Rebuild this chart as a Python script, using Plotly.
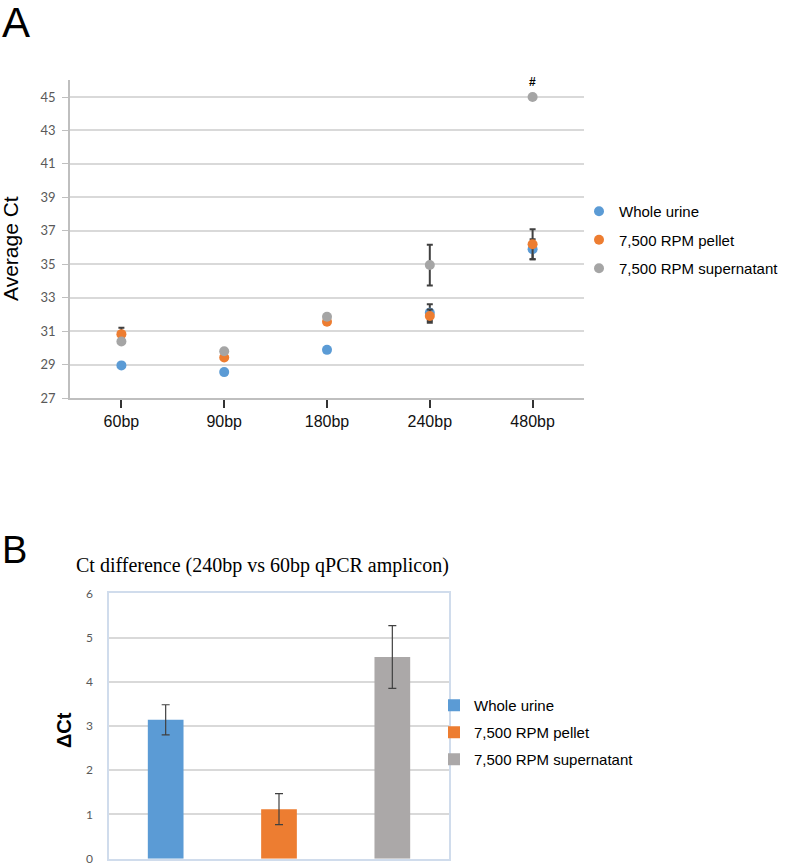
import plotly.graph_objects as go

W, H = 800, 863

# ---------------- Data: panel A ----------------
amplicons = ["60bp", "90bp", "180bp", "240bp", "480bp"]
whole_urine_ct = [28.95, 28.55, 29.88, 32.1, 35.9]
whole_urine_err = [0.0, 0.0, 0.0, 0.5, 0.6]
pellet_ct = [30.82, 29.42, 31.56, 31.9, 36.2]
pellet_err = [0.38, 0.0, 0.0, 0.4, 0.9]
supernatant_ct = [30.38, 29.8, 31.86, 34.95, 45.0]
supernatant_err = [0.0, 0.0, 0.0, 1.22, 0.0]
series_names = ["Whole urine", "7,500 RPM pellet", "7,500 RPM supernatant"]
y_ticks_a = [27, 29, 31, 33, 35, 37, 39, 41, 43, 45]

# ---------------- Data: panel B ----------------
delta_ct = [3.14, 1.12, 4.56]
delta_ct_err = [0.34, 0.35, 0.71]
y_ticks_b = [0, 1, 2, 3, 4, 5, 6]

colors_a = ["#5B9BD5", "#ED7D31", "#A5A5A5"]
colors_b = ["#5B9BD5", "#ED7D31", "#ABA8A8"]


def px_x(p):
    return p / W


def px_y(p):
    return 1 - p / H


fig = go.Figure()

vals_a = [whole_urine_ct, pellet_ct, supernatant_ct]
errs_a = [whole_urine_err, pellet_err, supernatant_err]
for i in range(3):
    fig.add_trace(go.Scatter(
        x=amplicons, y=vals_a[i], mode="markers", name=series_names[i],
        marker=dict(color=colors_a[i], size=10),
        error_y=dict(type="data", array=errs_a[i], color="#404040",
                     thickness=2, width=3),
        xaxis="x", yaxis="y", legend="legend", legendgroup="a%d" % i,
    ))

for i in range(3):
    fig.add_trace(go.Bar(
        x=[series_names[i]], y=[delta_ct[i]], name=series_names[i],
        marker=dict(color=colors_b[i], line=dict(width=0)), width=0.315,
        error_y=dict(type="data", array=[delta_ct_err[i]], color="#404040",
                     thickness=1.2, width=4),
        xaxis="x2", yaxis="y2", legend="legend2", legendgroup="b%d" % i,
    ))

tick_font_a = dict(family="Lato, Liberation Sans, Arial", size=13, color="#595959")

fig.update_layout(
    width=W, height=H,
    margin=dict(l=0, r=0, t=0, b=0, autoexpand=False),
    paper_bgcolor="white", plot_bgcolor="white",
    barmode="overlay",
    font=dict(family="Liberation Sans, Arial", color="#000000"),
    xaxis=dict(
        domain=[px_x(70), px_x(584)], anchor="y", automargin=False,
        type="category", range=[-0.5, 4.5],
        showgrid=False, showline=True, linecolor="#BFBFBF", linewidth=1.5,
        ticks="outside", ticklen=8, tickwidth=2, tickcolor="#333333",
        tickfont=dict(family="Liberation Sans, Arial", size=16, color="#111111"),
        zeroline=False,
    ),
    yaxis=dict(
        domain=[px_y(398), px_y(80)], anchor="x", automargin=False,
        range=[27, 46.02], tickvals=y_ticks_a,
        showgrid=True, gridcolor="#D9D9D9", gridwidth=1.5,
        showline=True, linecolor="#BFBFBF", linewidth=1.5,
        ticks="outside", ticklen=6, tickcolor="#BFBFBF",
        ticklabelstandoff=4,
        tickfont=tick_font_a, zeroline=False,
    ),
    xaxis2=dict(
        domain=[px_x(109), px_x(449)], anchor="y2", automargin=False,
        type="category", range=[-0.5, 2.5],
        showgrid=False, showticklabels=False, ticks="",
        showline=True, linecolor="#D0DCEC", linewidth=1.5, mirror=True,
        zeroline=False,
    ),
    yaxis2=dict(
        domain=[px_y(858.7), px_y(593.3)], anchor="x2", automargin=False,
        range=[0, 6], tickvals=y_ticks_b,
        showgrid=True, gridcolor="#D9D9D9", gridwidth=1.5,
        showline=True, linecolor="#D0DCEC", linewidth=1.5, mirror=True,
        ticks="outside", ticklen=0, ticklabelstandoff=12,
        ticklabeloverflow="allow",
        tickfont=dict(family="Lato, Liberation Sans, Arial", size=12, color="#595959"),
        zeroline=False,
    ),
    legend=dict(
        x=px_x(579), y=px_y(195), xanchor="left", yanchor="top",
        font=dict(family="Liberation Sans, Arial", size=15, color="#000000"),
        tracegroupgap=6, bgcolor="rgba(0,0,0,0)",
    ),
    legend2=dict(
        x=px_x(434), y=px_y(689), xanchor="left", yanchor="top",
        font=dict(family="Liberation Sans, Arial", size=15, color="#000000"),
        tracegroupgap=4.5, bgcolor="rgba(0,0,0,0)",
    ),
    showlegend=True,
)

annotations = [
    dict(text="A", x=px_x(0), y=px_y(22), xref="paper", yref="paper",
         xanchor="left", yanchor="middle", showarrow=False,
         font=dict(family="Liberation Sans, Arial", size=42, color="#000000")),
    dict(text="B", x=px_x(0), y=px_y(550), xref="paper", yref="paper",
         xanchor="left", yanchor="middle", showarrow=False,
         font=dict(family="Liberation Sans, Arial", size=38, color="#000000")),
    dict(text="Average Ct", x=px_x(11), y=px_y(249), xref="paper", yref="paper",
         xanchor="center", yanchor="middle", textangle=-90, showarrow=False,
         font=dict(family="Liberation Sans, Arial", size=21, color="#000000")),
    dict(text="<b>ΔCt</b>", x=px_x(64), y=px_y(730), xref="paper", yref="paper",
         xanchor="center", yanchor="middle", textangle=-90, showarrow=False,
         font=dict(family="Liberation Sans, Arial", size=20, color="#000000")),
    dict(text="Ct difference (240bp vs 60bp qPCR amplicon)", x=px_x(262), y=px_y(565),
         xref="paper", yref="paper", xanchor="center", yanchor="middle",
         showarrow=False,
         font=dict(family="Liberation Serif, Times New Roman", size=20, color="#000000")),
    dict(text="<b>#</b>", x="480bp", y=supernatant_ct[4], xref="x", yref="y",
         yshift=15, showarrow=False,
         font=dict(family="Liberation Sans, Arial", size=12, color="#000000")),
]
fig.update_layout(annotations=annotations)

# Remove the browser's default 8px page margin so the figure fills the window.
fig.write_html("out.html", config={"displayModeBar": False},
               post_script="document.body.style.margin='0';document.body.style.padding='0';")
